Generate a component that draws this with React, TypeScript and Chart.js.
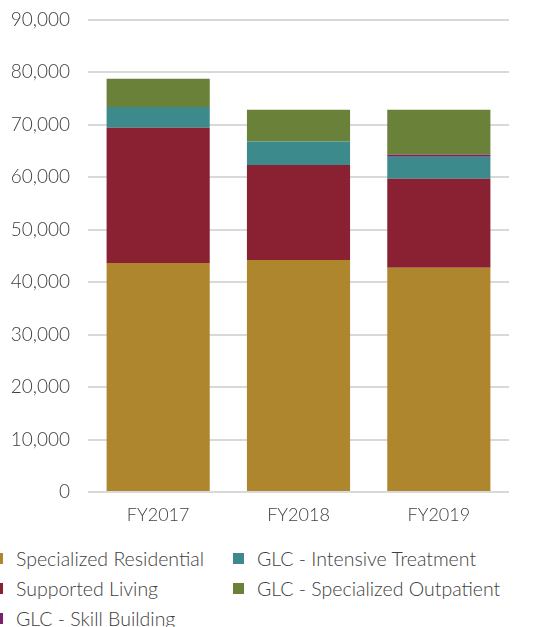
import React, { useEffect, useRef } from "react";
import { Chart, registerables } from "chart.js";

Chart.register(...registerables);

const categories = ["FY2017", "FY2018", "FY2019"];
const specializedResidential = [43600, 44200, 42700];
const supportedLiving = [25800, 18100, 16950];
const intensiveTreatment = [3950, 4450, 4200];
const skillBuilding = [0, 0, 400];
const specializedOutpatient = [5350, 6050, 8550];
const yMin = 0;
const yMax = 90000;
const yStep = 10000;

const FONT = "Lato, 'DejaVu Sans', sans-serif";
const TEXT = "#404040";

const COLORS = {
  sr: "#AE862E",
  sl: "#8A2133",
  it: "#3C8A8B",
  sb: "#7A2068",
  so: "#6A813A",
};

const legendItems = [
  { label: "Specialized Residential", color: COLORS.sr, col: 0, row: 0 },
  { label: "Supported Living", color: COLORS.sl, col: 0, row: 1 },
  { label: "GLC - Skill Building", color: COLORS.sb, col: 0, row: 2 },
  { label: "GLC - Intensive Treatment", color: COLORS.it, col: 1, row: 0 },
  { label: "GLC - Specialized Outpatient", color: COLORS.so, col: 1, row: 1 },
];

export default function App() {
  const ref = useRef<HTMLCanvasElement | null>(null);

  useEffect(() => {
    if (!ref.current) return;
    const chart = new Chart(ref.current, {
      type: "bar",
      data: {
        labels: categories,
        datasets: [
          { label: "Specialized Residential", data: specializedResidential, backgroundColor: COLORS.sr },
          { label: "Supported Living", data: supportedLiving, backgroundColor: COLORS.sl },
          { label: "GLC - Intensive Treatment", data: intensiveTreatment, backgroundColor: COLORS.it },
          { label: "GLC - Skill Building", data: skillBuilding, backgroundColor: COLORS.sb },
          { label: "GLC - Specialized Outpatient", data: specializedOutpatient, backgroundColor: COLORS.so },
        ],
      },
      options: {
        animation: false,
        responsive: false,
        devicePixelRatio: 1,
        layout: { padding: { top: 19.5, right: 25, left: 0, bottom: 0 } },
        datasets: { bar: { categoryPercentage: 1, barPercentage: 0.735 } },
        plugins: { legend: { display: false }, tooltip: { enabled: false } },
        scales: {
          x: {
            stacked: true,
            grid: { display: false, drawTicks: false },
            border: { display: false },
            ticks: { color: TEXT, font: { family: FONT, size: 18, weight: 300 }, padding: 12 },
            afterFit: (s: any) => { s.height = 43; s.paddingLeft = 0; s.paddingRight = 0; },
          },
          y: {
            stacked: true,
            min: yMin,
            max: yMax,
            grid: { color: "#D9D9D9", lineWidth: 2, drawTicks: false },
            border: { display: false },
            ticks: {
              stepSize: yStep,
              color: TEXT,
              font: { family: FONT, size: 19, weight: 300 },
              padding: 18,
              callback: (v: any) => Number(v).toLocaleString("en-US"),
            },
            afterFit: (s: any) => { s.width = 88; s.paddingTop = 0; s.paddingBottom = 0; },
          },
        },
      },
    });
    return () => chart.destroy();
  }, []);

  return (
    <div style={{ position: "fixed", left: 0, top: 0, width: 534, height: 627, background: "#fff", overflow: "hidden" }}>
      <canvas ref={ref} width={534} height={535} style={{ position: "absolute", left: 0, top: 0 }} />
      {legendItems.map((it) => (
        <div
          key={it.label}
          style={{
            position: "absolute",
            left: it.col === 0 ? -8 : 233,
            top: 543.5 + it.row * 30,
            height: 30,
            display: "flex",
            alignItems: "center",
            whiteSpace: "nowrap",
            fontFamily: FONT,
            fontSize: 19.5,
            fontWeight: 300,
            color: TEXT,
          }}
        >
          <span style={{ display: "inline-block", width: 11, height: 11, background: it.color, marginRight: 13, flex: "none" }} />
          <span>{it.label}</span>
        </div>
      ))}
    </div>
  );
}
